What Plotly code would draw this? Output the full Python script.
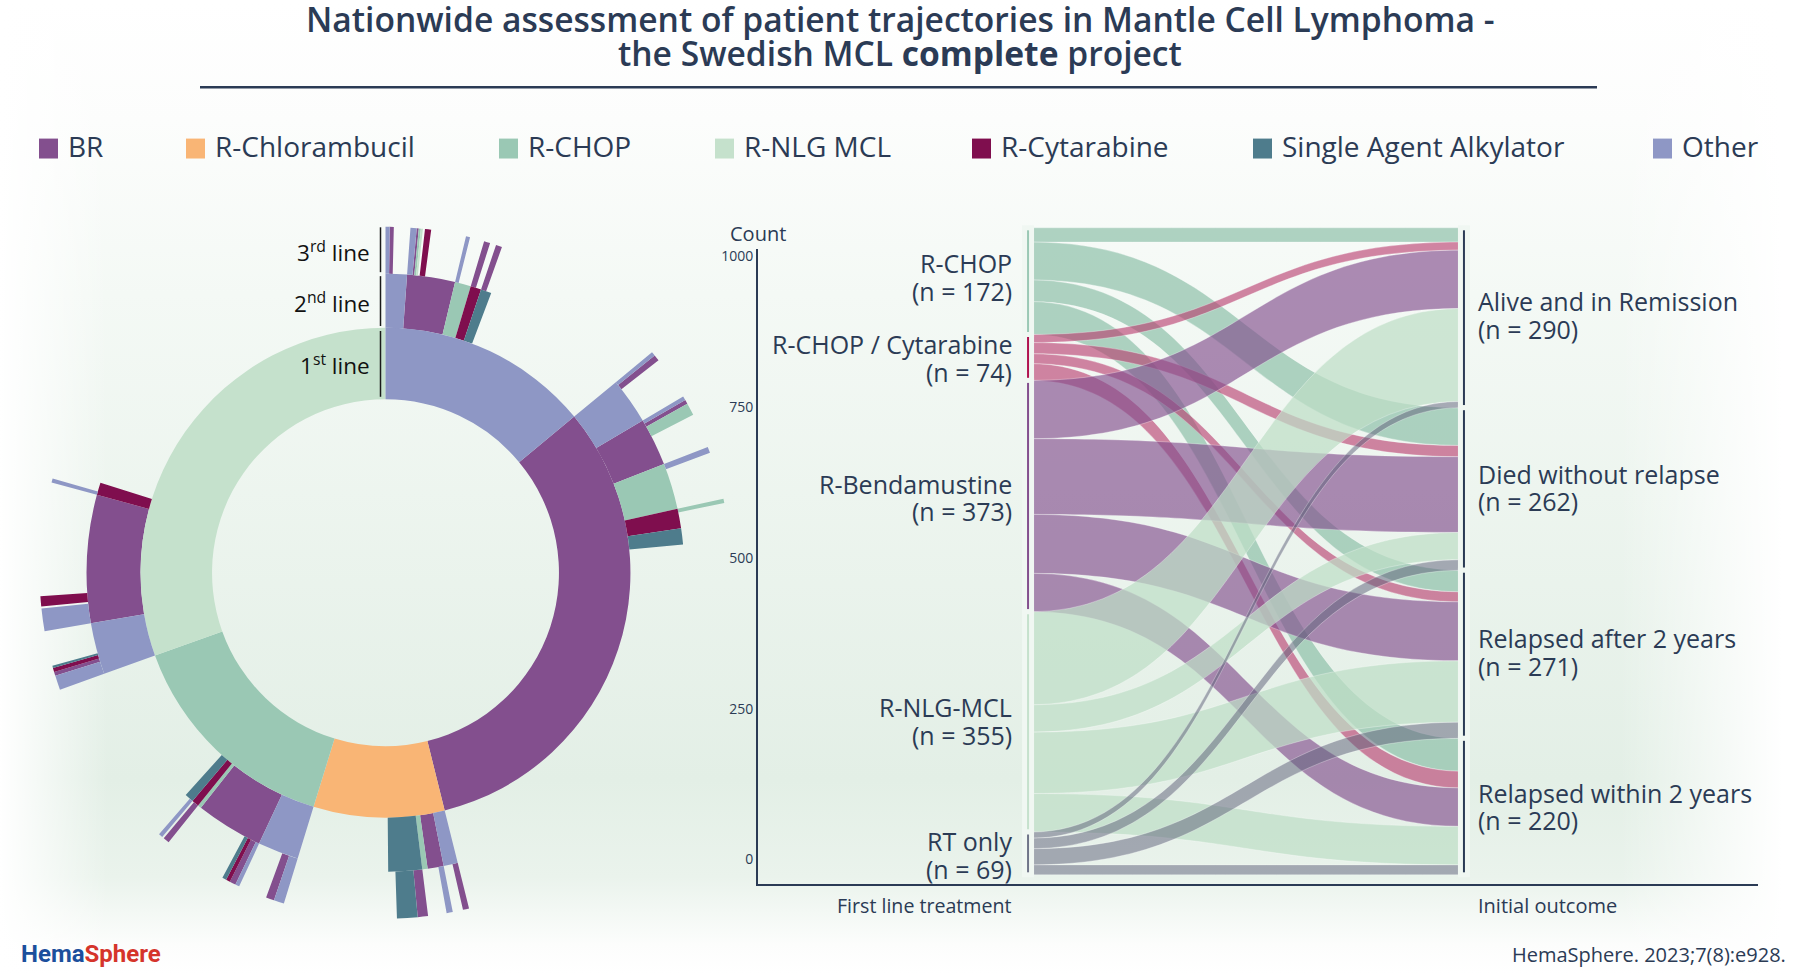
import base64
from itertools import accumulate
import plotly.graph_objects as go

W, H = 1800, 974
INK = "#2b3b55"
FONT = "Open Sans"

# ---------- data ----------
treatments = ["BR", "R-Chlorambucil", "R-CHOP", "R-NLG MCL", "R-Cytarabine", "Single Agent Alkylator", "Other"]
treatment_colors = ["#834F8E", "#F9B575", "#9AC8B4", "#C5E1CC", "#7F0E4E", "#4E7C8C", "#8E97C5"]

ring1_treatment = ["Other", "BR", "R-Chlorambucil", "R-CHOP", "R-NLG MCL"]
ring1_count = [146, 335, 90, 154, 318]

O, B, C, N, Y, S = "Other", "BR", "R-CHOP", "R-NLG MCL", "R-Cytarabine", "Single Agent Alkylator"
ring2_parent = [0, 0, 0, 0, 0, 1, 1, 1, 1, 1, 2, 2, 2, 2, 3, 3, 3, 3, 3, 4, 4, 4]
ring2_treatment = [O, B, C, Y, S, O, B, C, Y, S, O, B, C, S, O, B, C, Y, S, O, B, Y]
ring2_count = [12, 27, 9, 6, 6, 26, 27, 26, 11, 9, 8, 9, 3, 19, 23, 38, 2, 4, 5, 29, 72, 7]

ring3_parent = [0, 0, 1, 1, 1, 1, 1, 1, 2, 3, 4, 5, 5, 6, 6, 6, 7, 8, 10, 11, 13, 13,
                14, 14, 15, 15, 15, 15, 17, 18, 19, 19, 19, 19, 20, 20, 20, 21]
ring3_treatment = [O, B, O, B, C, N, None, Y, O, B, B, O, B, O, B, C, O, C, B, O, B, S,
                   O, B, O, B, Y, S, B, O, O, B, Y, S, O, None, Y, O]
ring3_count = [2, 2, 3, 1, 1, 1, 1, 3, 2, 3, 3, 2, 3, 2, 2, 6, 3, 2, 3, 3, 5, 10,
               5, 4, 2, 3, 2, 2, 3, 2, 7, 2, 2, 1, 11, 1, 5, 2]

first_line = ["R-CHOP", "R-CHOP / Cytarabine", "R-Bendamustine", "R-NLG-MCL", "RT only"]
first_line_n = [172, 74, 373, 355, 69]
first_line_colors = ["#9AC8B4", "#B0124F", "#834F8E", "#C5E1CC", "#6F7488"]
outcomes = ["Alive and in Remission", "Died without relapse", "Relapsed after 2 years", "Relapsed within 2 years"]
outcome_n = [290, 262, 271, 220]
flows = [  # rows: first line; columns: outcomes
    [23, 61, 35, 53],
    [13, 18, 16, 27],
    [94, 122, 95, 62],
    [150, 44, 99, 62],
    [10, 17, 26, 16],
]
link_colors = ["rgba(138,190,166,0.68)", "rgba(184,60,110,0.62)", "rgba(131,79,142,0.65)",
               "rgba(190,222,198,0.72)", "rgba(98,100,125,0.52)"]
count_ticks = [0, 250, 500, 750, 1000]

# ---------- helpers ----------
color_of = dict(zip(treatments, treatment_colors))
TOTAL = sum(ring1_count)
DEG = 360.0 / TOTAL
ring1_start = [0] + list(accumulate(ring1_count))[:-1]


def child_starts(parent_start, parents, counts):
    starts, used = [], {}
    for p, c in zip(parents, counts):
        starts.append(parent_start[p] + used.get(p, 0))
        used[p] = used.get(p, 0) + c
    return starts


ring2_start = child_starts(ring1_start, ring2_parent, ring2_count)
ring3_start = child_starts(ring2_start, ring3_parent, ring3_count)

RING_R = [173.5, 245, 299, 346]
rings = [
    (ring1_treatment, ring1_start, ring1_count, 0),
    (ring2_treatment, ring2_start, ring2_count, 1),
    (ring3_treatment, ring3_start, ring3_count, 2),
]

fig = go.Figure()

# axis of the count scale
fig.add_trace(go.Scatter(x=[None], y=[None], xaxis="x", yaxis="y", showlegend=False, hoverinfo="skip"))

for name in treatments:
    theta, width, base, r = [], [], [], []
    for labels, starts, counts, level in rings:
        for lab, st, ct in zip(labels, starts, counts):
            if lab == name:
                theta.append((st + ct / 2) * DEG)
                width.append(ct * DEG)
                base.append(RING_R[level])
                r.append(RING_R[level + 1] - RING_R[level])
    fig.add_trace(go.Barpolar(theta=theta, r=r, base=base, width=width, name=name, showlegend=False,
                              marker=dict(color=color_of[name], line=dict(width=0)), opacity=1))

# sankey
nL, nR = len(first_line), len(outcomes)
src, tgt, val, col = [], [], [], []
for i, row in enumerate(flows):
    for j, v in enumerate(row):
        src.append(i); tgt.append(nL + j); val.append(v); col.append(link_colors[i])


def centers(ns):
    tot = sum(ns)
    out, acc = [], 0
    for n in ns:
        out.append((acc + n / 2) / tot)
        acc += n
    return out


SX0, SX1 = 1028, 1464
SY0, SY1 = 225.5, 874.5
fig.add_trace(go.Sankey(
    domain=dict(x=[SX0 / W, SX1 / W], y=[1 - SY1 / H, 1 - SY0 / H]),
    arrangement="fixed",
    node=dict(
        x=[0.0001] * nL + [0.9999] * nR,
        y=centers(first_line_n) + centers(outcome_n),
        pad=0, thickness=7,
        color=first_line_colors + [INK] * nR,
        line=dict(color="#F0F7F2", width=5),
        hoverinfo="skip",
    ),
    link=dict(source=src, target=tgt, value=val, color=col, line=dict(color="rgba(255,255,255,0.6)", width=0.5)),
))

# background
svg = f'''<svg xmlns="http://www.w3.org/2000/svg" width="{W}" height="{H}">
<defs>
<linearGradient id="v" x1="0" y1="0" x2="0" y2="1">
<stop offset="0" stop-color="#ffffff"/><stop offset="0.12" stop-color="#fcfdfc"/>
<stop offset="0.3" stop-color="#f4f9f5"/><stop offset="0.8" stop-color="#e3efe6"/>
<stop offset="0.9" stop-color="#eaf3ec"/><stop offset="0.97" stop-color="#fcfdfc"/><stop offset="1" stop-color="#ffffff"/>
</linearGradient>
<linearGradient id="h" x1="0" y1="0" x2="1" y2="0">
<stop offset="0" stop-color="#fff" stop-opacity="1"/><stop offset="0.06" stop-color="#fff" stop-opacity="0"/>
<stop offset="0.9" stop-color="#fff" stop-opacity="0"/><stop offset="0.99" stop-color="#fff" stop-opacity="1"/>
<stop offset="1" stop-color="#fff" stop-opacity="1"/>
</linearGradient>
</defs>
<rect width="{W}" height="{H}" fill="url(#v)"/><rect width="{W}" height="{H}" fill="url(#h)"/></svg>'''
bg = "data:image/svg+xml;base64," + base64.b64encode(svg.encode()).decode()

ann, shapes = [], []


def text(x, y, s, size, anchor="left", color=INK, family=FONT, **kw):
    ann.append(dict(x=x / W, y=1 - y / H, xref="paper", yref="paper", text=s, showarrow=False, xanchor=anchor,
                    yanchor="middle", align=anchor, font=dict(size=size, color=color, family=family, **kw)))


# title
text(900, 16, "Nationwide assessment of patient trajectories in Mantle Cell Lymphoma -", 33.6, "center", weight=600)
text(900, 50, "the Swedish MCL <b>complete</b> project", 33.6, "center", weight=600)
shapes.append(dict(type="line", xref="paper", yref="paper", x0=200 / W, x1=1597 / W, y0=1 - 84.5 / H, y1=1 - 84.5 / H,
                   line=dict(color=INK, width=2.5)))

# legend row
legend_x = [39, 186, 499, 715, 972, 1253, 1653]
for name, lx in zip(treatments, legend_x):
    shapes.append(dict(type="rect", xref="paper", yref="paper", x0=lx / W, x1=(lx + 19) / W,
                       y0=1 - 136 / H, y1=1 - 156 / H, fillcolor=color_of[name], line=dict(width=0)))
    text(lx + 27, 143, name, 28)

# ring labels
for lab, y, y0, y1 in [("1<sup>st</sup> line", 363, 329, 395), ("2<sup>nd</sup> line", 300, 274, 324),
                       ("3<sup>rd</sup> line", 249, 225, 270)]:
    text(372, y, lab, 22.5, "right", color="#111111")
    shapes.append(dict(type="line", xref="paper", yref="paper", x0=380.5 / W, x1=380.5 / W, y0=1 - y0 / H, y1=1 - y1 / H,
                       line=dict(color="#1a1a1a", width=1.5)))

# sankey labels
for lab, n, y in zip(first_line, first_line_n, [275, 356, 496, 720, 855]):
    text(1014, y - 14, lab, 25, "right")
    text(1014, y + 14, f"(n = {n})", 25, "right")
for lab, n, y in zip(outcomes, outcome_n, [313, 486, 651, 806]):
    text(1476, y - 14, lab, 25, "left")
    text(1476, y + 14, f"(n = {n})", 25, "left")

text(758, 231, "Count", 20, "center")
text(1014, 905, "First line treatment", 19.6, "right")
text(1476, 905, "Initial outcome", 20, "left")

# footer
text(18.5, 954, '<b><span style="color:#1B4F9C">Hema</span><span style="color:#D5342B">Sphere</span></b>', 24, family="Roboto")
text(1788, 954, "HemaSphere. 2023;7(8):e928.", 20, "right")

fig.update_layout(
    width=W, height=H, margin=dict(l=0, r=0, t=0, b=0),
    paper_bgcolor="white", plot_bgcolor="rgba(0,0,0,0)", showlegend=False,
    font=dict(family=FONT, color=INK),
    images=[dict(source=bg, xref="paper", yref="paper", x=0, y=1, sizex=1, sizey=1, sizing="stretch", layer="below")],
    annotations=ann, shapes=shapes,
    xaxis=dict(domain=[758 / W, 1758 / W], range=[0, 1], showline=True, linecolor=INK, linewidth=2, showgrid=False,
               zeroline=False, showticklabels=False, ticks=""),
    yaxis=dict(domain=[1 - 884 / H, 1 - 247 / H], range=[-41, 1011.6], tickvals=count_ticks, showline=True,
               linecolor=INK, linewidth=2, showgrid=False, zeroline=False, ticks="",
               tickfont=dict(size=14, color=INK, family=FONT)),
    polar=dict(
        domain=dict(x=[(385.5 - 351) / W, (385.5 + 351) / W], y=[1 - (571.5 + 351) / H, 1 - (571.5 - 351) / H]),
        bgcolor="rgba(0,0,0,0)", barmode="overlay",
        angularaxis=dict(rotation=90, direction="clockwise", visible=False, thetaunit="degrees"),
        radialaxis=dict(range=[0, 350], visible=False),
    ),
)

fig.write_html("out.html", config={"displayModeBar": False},
               post_script="document.body.style.margin='0';document.body.style.overflow='hidden';")
